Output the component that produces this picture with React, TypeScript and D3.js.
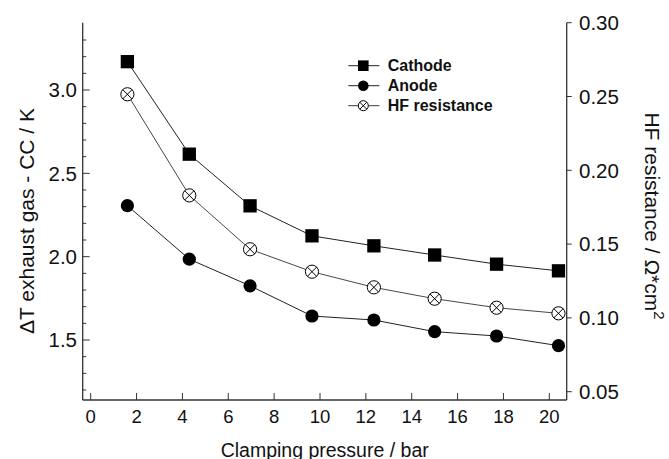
import React from "react";
import * as d3 from "d3";

const pressure = [1.6, 4.3, 6.95, 9.65, 12.35, 15.0, 17.7, 20.4];
const cathode = [3.17, 2.615, 2.305, 2.125, 2.065, 2.01, 1.955, 1.915];
const anode = [2.306, 1.985, 1.825, 1.644, 1.62, 1.55, 1.524, 1.466];
const hfResistance = [0.2515, 0.183, 0.1465, 0.1313, 0.1207, 0.113, 0.1069, 0.1031];

const xTicks = [0, 2, 4, 6, 8, 10, 12, 14, 16, 18, 20];
const leftMajor = [1.5, 2.0, 2.5, 3.0];
const leftMinor = [1.2, 1.3, 1.4, 1.6, 1.7, 1.8, 1.9, 2.1, 2.2, 2.3, 2.4, 2.6, 2.7, 2.8, 2.9, 3.1, 3.2, 3.3];
const rightTicks = [0.05, 0.1, 0.15, 0.2, 0.25, 0.3];
const legendLabels = ["Cathode", "Anode", "HF resistance"];

const W = 669;
const H = 459;
const L = 82.7;
const R = 566.7;
const T = 22.7;
const B = 400;

export default function App() {
  const x = d3.scaleLinear().domain([0, 20]).range([90.7, 549.3]);
  const yL = d3.scaleLinear().domain([1.5, 3.0]).range([340, 90]);
  const yR = d3.scaleLinear().domain([0.05, 0.3]).range([391.7, 22.7]);

  const lineL = d3.line<number>().x((_, i) => x(pressure[i])).y((d) => yL(d));
  const lineR = d3.line<number>().x((_, i) => x(pressure[i])).y((d) => yR(d));

  const font = "Arial, 'Liberation Sans', Helvetica, sans-serif";
  const sq = 13.3;
  const r = 6.6;

  const hfMarker = (cx: number, cy: number, rr: number, key: any) => {
    const k = rr * 0.7071;
    return (
      <g key={key}>
        <circle cx={cx} cy={cy} r={rr} fill="white" stroke="black" strokeWidth={1} />
        <line x1={cx - k} y1={cy - k} x2={cx + k} y2={cy + k} stroke="black" strokeWidth={1} />
        <line x1={cx - k} y1={cy + k} x2={cx + k} y2={cy - k} stroke="black" strokeWidth={1} />
      </g>
    );
  };

  const legY = [65.7, 85.7, 105.7];

  return (
    <svg width={W} height={H} style={{ position: "absolute", left: 0, top: 0, background: "white" }} fontFamily={font}>
      <rect x={0} y={0} width={W} height={H} fill="white" />
      {/* axes lines */}
      <line x1={L} y1={T} x2={L} y2={B} stroke="#333" strokeWidth={1.3} />
      <line x1={R} y1={T} x2={R} y2={B} stroke="#333" strokeWidth={1.3} />
      <line x1={L} y1={B} x2={R} y2={B} stroke="#333" strokeWidth={1.3} />

      {/* x ticks */}
      {xTicks.map((t) => (
        <g key={"xt" + t}>
          <line x1={x(t)} y1={B} x2={x(t)} y2={B - 7} stroke="#333" strokeWidth={1} />
          <text x={x(t)} y={423} textAnchor="middle" fontSize={18.5} fill="#111">{t}</text>
        </g>
      ))}
      {/* left ticks */}
      {leftMajor.map((t) => (
        <g key={"lt" + t}>
          <line x1={L} y1={yL(t)} x2={L + 7} y2={yL(t)} stroke="#333" strokeWidth={1} />
          <text x={77} y={yL(t)} dy="0.36em" textAnchor="end" fontSize={20.5} fill="#111">{t.toFixed(1)}</text>
        </g>
      ))}
      {leftMinor.map((t) => (
        <line key={"lm" + t} x1={L} y1={yL(t)} x2={L + 3.5} y2={yL(t)} stroke="#333" strokeWidth={1} />
      ))}
      {/* right ticks */}
      {rightTicks.map((t) => (
        <g key={"rt" + t}>
          <line x1={R} y1={yR(t)} x2={R + 5} y2={yR(t)} stroke="#333" strokeWidth={1} />
          <text x={579} y={yR(t)} dy="0.36em" textAnchor="start" fontSize={20.5} fill="#111">{t.toFixed(2)}</text>
        </g>
      ))}

      {/* axis titles */}
      <text x={(L + R) / 2} y={457} textAnchor="middle" fontSize={19.5} fill="#111">Clamping pressure / bar</text>
      <text transform={`translate(34, 221) rotate(-90)`} textAnchor="middle" fontSize={21} fill="#111">ΔT exhaust gas - CC / K</text>
      <text transform={`translate(645, 216) rotate(90)`} textAnchor="middle" fontSize={21} fill="#111">
        HF resistance / Ω*cm<tspan dy={-9} fontSize={15}>2</tspan>
      </text>

      {/* lines */}
      <path d={lineL(cathode) || ""} fill="none" stroke="#222" strokeWidth={1} />
      <path d={lineL(anode) || ""} fill="none" stroke="#222" strokeWidth={1} />
      <path d={lineR(hfResistance) || ""} fill="none" stroke="#333" strokeWidth={0.9} />

      {/* markers */}
      {cathode.map((v, i) => (
        <rect key={"c" + i} x={x(pressure[i]) - sq / 2} y={yL(v) - sq / 2} width={sq} height={sq} fill="black" />
      ))}
      {anode.map((v, i) => (
        <circle key={"a" + i} cx={x(pressure[i])} cy={yL(v)} r={r} fill="black" />
      ))}
      {hfResistance.map((v, i) => hfMarker(x(pressure[i]), yR(v), r, "h" + i))}

      {/* legend */}
      {legendLabels.map((lab, i) => (
        <g key={"lg" + i}>
          <line x1={348.3} y1={legY[i]} x2={379.3} y2={legY[i]} stroke="#222" strokeWidth={i === 2 ? 0.9 : 1} />
          {i === 0 && <rect x={363.3 - 5.3} y={legY[i] - 5.3} width={10.6} height={10.6} fill="black" />}
          {i === 1 && <circle cx={363.3} cy={legY[i]} r={5.3} fill="black" />}
          {i === 2 && hfMarker(363.3, legY[i], 5, "lh")}
          <text x={387.7} y={legY[i]} dy="0.36em" fontSize={16} fontWeight="bold" fill="#111">{lab}</text>
        </g>
      ))}
    </svg>
  );
}
